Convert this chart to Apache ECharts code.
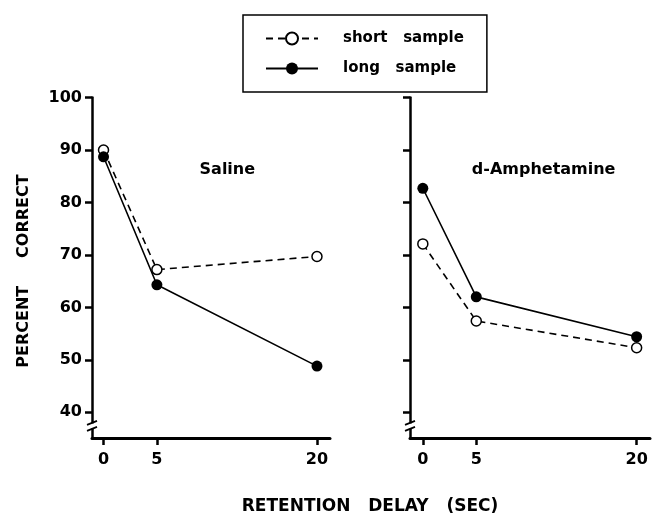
<!DOCTYPE html>
<html>
<head>
<meta charset="utf-8">
<script src="https://cdn.jsdelivr.net/npm/echarts@6/dist/echarts.min.js"></script>
<style>
html,body{margin:0;padding:0;background:#fff;}
#chart{width:654px;height:517px;}
</style>
</head>
<body>
<div id="chart"></div>
<script>
// ---- data ----
var delays = [0, 5, 20];
var salineShort = [90.0, 67.2, 69.7];
var salineLong = [88.7, 64.3, 48.8];
var amphShort = [72.1, 57.4, 52.3];
var amphLong = [82.7, 62.0, 54.4];
var yTickValues = [40, 50, 60, 70, 80, 90, 100];
var xTickValues = [0, 5, 20];
var seriesNames = ['short sample', 'long sample'];
var panelNames = ['Saline', 'd-Amphetamine'];
var yTitle = 'PERCENT     CORRECT';
var xTitle = 'RETENTION   DELAY   (SEC)';

function pairs(xs, ys) { return xs.map(function (x, i) { return [x, ys[i]]; }); }

var FONT = 'DejaVu Sans';
var chart = echarts.init(document.getElementById('chart'), null, {renderer: 'canvas'});

function xAxisCfg(gi, min, max) {
  return {
    type: 'value', gridIndex: gi, min: min, max: max,
    splitLine: {show: false},
    axisLine: {onZero: false, lineStyle: {color: '#000', width: 3}},
    axisTick: {customValues: xTickValues, length: 7, lineStyle: {color: '#000', width: 2.5}},
    axisLabel: {customValues: xTickValues, margin: 14, color: '#000', fontFamily: FONT, fontWeight: 'bold', fontSize: 16}
  };
}
function yAxisCfg(gi, showLabel) {
  return {
    type: 'value', gridIndex: gi, min: 35.1, max: 100,
    splitLine: {show: false},
    axisLine: {onZero: false, lineStyle: {color: '#000', width: 2.5}},
    axisTick: {customValues: yTickValues, length: 7, lineStyle: {color: '#000', width: 2.5}},
    axisLabel: {show: showLabel, customValues: yTickValues, margin: 10, color: '#000', fontFamily: FONT, fontWeight: 'bold', fontSize: 16}
  };
}
function shortSeries(gi, data) {
  return {
    name: seriesNames[0], type: 'line', xAxisIndex: gi, yAxisIndex: gi,
    data: pairs(delays, data), symbol: 'circle', symbolSize: 10,
    itemStyle: {color: '#fff', borderColor: '#000', borderWidth: 1.5},
    lineStyle: {color: '#000', width: 1.6, type: [7, 5]},
    animation: false, z: 3
  };
}
function longSeries(gi, data) {
  return {
    name: seriesNames[1], type: 'line', xAxisIndex: gi, yAxisIndex: gi,
    data: pairs(delays, data), symbol: 'circle', symbolSize: 11,
    itemStyle: {color: '#000', borderColor: '#000', borderWidth: 0},
    lineStyle: {color: '#000', width: 1.6, type: 'solid'},
    animation: false, z: 4
  };
}

var option = {
  backgroundColor: '#fff',
  animation: false,
  grid: [
    {left: 92, top: 97.5, width: 238, height: 340.5},
    {left: 410, top: 97.5, width: 240, height: 340.5}
  ],
  xAxis: [xAxisCfg(0, -1.08, 21.22), xAxisCfg(1, -1.2, 21.25)],
  yAxis: [yAxisCfg(0, true), yAxisCfg(1, false)],
  legend: {
    data: seriesNames, orient: 'vertical', left: 243, top: 15,
    padding: [16, 23, 16, 22],
    borderColor: '#000', borderWidth: 1.5,
    itemWidth: 52, itemHeight: 15, itemGap: 15,
    selectedMode: false,
    formatter: function (n) { return n.replace(' ', '   '); },
    textStyle: {fontFamily: FONT, fontWeight: 'bold', fontSize: 15, color: '#000', padding: [0, 0, 0, 20]}
  },
  series: [
    shortSeries(0, salineShort), longSeries(0, salineLong),
    shortSeries(1, amphShort), longSeries(1, amphLong)
  ]
};
chart.setOption(option);

// decorations: panel names, axis titles, axis-break marks
var g = [];
var p0 = chart.convertToPixel({gridIndex: 0}, [11.6, 86.2]);
var p1 = chart.convertToPixel({gridIndex: 1}, [11.3, 86.2]);
g.push({type: 'text', x: p0[0], y: p0[1], style: {text: panelNames[0], font: 'bold 16px "DejaVu Sans"', fill: '#000', textAlign: 'center', textVerticalAlign: 'middle'}});
g.push({type: 'text', x: p1[0], y: p1[1], style: {text: panelNames[1], font: 'bold 16px "DejaVu Sans"', fill: '#000', textAlign: 'center', textVerticalAlign: 'middle'}});
g.push({type: 'text', x: 24, y: 271, rotation: Math.PI / 2, style: {text: yTitle, font: 'bold 16px "DejaVu Sans"', fill: '#000', textAlign: 'center', textVerticalAlign: 'middle'}});
g.push({type: 'text', x: 370, y: 507, style: {text: xTitle, font: 'bold 17px "DejaVu Sans"', fill: '#000', textAlign: 'center', textVerticalAlign: 'middle'}});
[0, 1].forEach(function (gi) {
  var xmin = option.xAxis[gi].min;
  var a = chart.convertToPixel({gridIndex: gi}, [xmin, 37.4]);
  var x = a[0], y = a[1];
  g.push({type: 'rect', shape: {x: x - 3, y: y - 2.5, width: 6, height: 5}, style: {fill: '#fff'}, z: 100});
  g.push({type: 'line', shape: {x1: x - 5, y1: y - 1, x2: x + 5, y2: y - 5}, style: {stroke: '#000', lineWidth: 1.8}, z: 101});
  g.push({type: 'line', shape: {x1: x - 5, y1: y + 5, x2: x + 5, y2: y + 1}, style: {stroke: '#000', lineWidth: 1.8}, z: 101});
});
chart.setOption({graphic: g});
</script>
</body>
</html>
